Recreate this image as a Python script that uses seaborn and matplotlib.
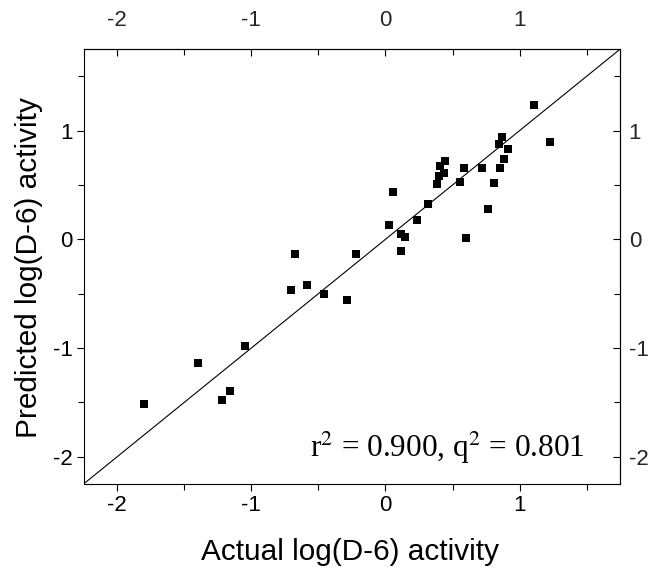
import matplotlib
matplotlib.use("Agg")
import matplotlib.pyplot as plt
from matplotlib.ticker import MultipleLocator
import pandas as pd
import seaborn as sns

# Experimental vs. model-predicted log(D-6) activity
actual = [-1.797, -1.400, -1.221, -1.156, -1.049, -0.702, -0.677, -0.587,
          -0.458, -0.287, -0.217, 0.028, 0.058, 0.113, 0.143, 0.118,
          0.235, 0.319, 0.386, 0.399, 0.409, 0.434, 0.446, 0.555,
          0.583, 0.598, 0.719, 0.764, 0.806, 0.856, 0.881, 0.866,
          0.848, 0.910, 1.104, 1.223]
predicted = [-1.517, -1.135, -1.478, -1.395, -0.981, -0.463, -0.138, -0.420,
             -0.500, -0.561, -0.138, 0.129, 0.435, 0.049, 0.024, -0.110,
             0.177, 0.325, 0.508, 0.585, 0.674, 0.612, 0.723, 0.530,
             0.653, 0.012, 0.653, 0.276, 0.521, 0.653, 0.738, 0.941,
             0.873, 0.828, 1.235, 0.898]
r2 = 0.900
q2 = 0.801
axis_limits = [-2.25, 1.75]
major_ticks = [-2, -1, 0, 1]
tick_labels = ["-2", "-1", "0", "1"]

sns.set_style("ticks")
plt.rcParams["font.family"] = ["Liberation Sans", "DejaVu Sans"]
plt.rcParams["mathtext.fontset"] = "stix"

df = pd.DataFrame({"actual": actual, "predicted": predicted})

fig = plt.figure(figsize=(6.5, 5.8), dpi=100)
ax = fig.add_axes([0.1285, 0.1655, 0.8258, 0.75])

# identity line across the full plotting window
ax.plot(axis_limits, axis_limits, color="black", lw=0.8, zorder=1)

sns.scatterplot(data=df, x="actual", y="predicted", marker="s", s=34,
                color="black", edgecolor="none", linewidth=0, ax=ax,
                legend=False, zorder=3)

ax.set_xlim(axis_limits)
ax.set_ylim(axis_limits)

for spine in ax.spines.values():
    spine.set_color("black")
    spine.set_linewidth(0.8)

tick_fs = 16
for axis in (ax.xaxis, ax.yaxis):
    axis.set_major_locator(plt.FixedLocator(major_ticks))
    axis.set_minor_locator(MultipleLocator(0.5))
ax.set_xticks(major_ticks, tick_labels)
ax.set_yticks(major_ticks, tick_labels)
ax.tick_params(which="major", direction="out", length=5, width=0.8,
               color="black", pad=3.0, labelsize=tick_fs, labelcolor="black")
ax.tick_params(which="minor", direction="out", length=4, width=0.8,
               color="black")

# mirrored scales on the top and right, ticks pointing inward
top = ax.secondary_xaxis("top")
right = ax.secondary_yaxis("right")
for sec, axis in ((top, top.xaxis), (right, right.yaxis)):
    axis.set_major_locator(plt.FixedLocator(major_ticks))
    axis.set_minor_locator(MultipleLocator(0.5))
    sec.spines[:].set_color("black")
    sec.spines[:].set_linewidth(0.8)
top.set_xticks(major_ticks, tick_labels)
right.set_yticks(major_ticks, tick_labels)
top.tick_params(which="major", direction="in", length=5, width=0.8,
                color="black", pad=13.0, labelsize=tick_fs)
top.tick_params(which="minor", direction="in", length=4, width=0.8,
                color="black")
right.tick_params(which="major", direction="in", length=5, width=0.8,
                  color="black", pad=6, labelsize=tick_fs)
right.tick_params(which="minor", direction="in", length=4, width=0.8,
                  color="black")

ax.set_xlabel("Actual log(D-6) activity", fontsize=21.4, color="black")
ax.set_ylabel("Predicted log(D-6) activity", fontsize=21.4, color="black")
ax.xaxis.set_label_coords(0.4965, -0.124)
ax.yaxis.set_label_coords(-0.0754, 0.4966)

ax.text(1.487, -2.0, f"r$^2$ = {r2:.3f}, q$^2$ = {q2:.3f}",
        ha="right", va="baseline", fontsize=22.5, family="Liberation Serif",
        color="black", zorder=4)

fig.savefig("out.png", dpi=100)
